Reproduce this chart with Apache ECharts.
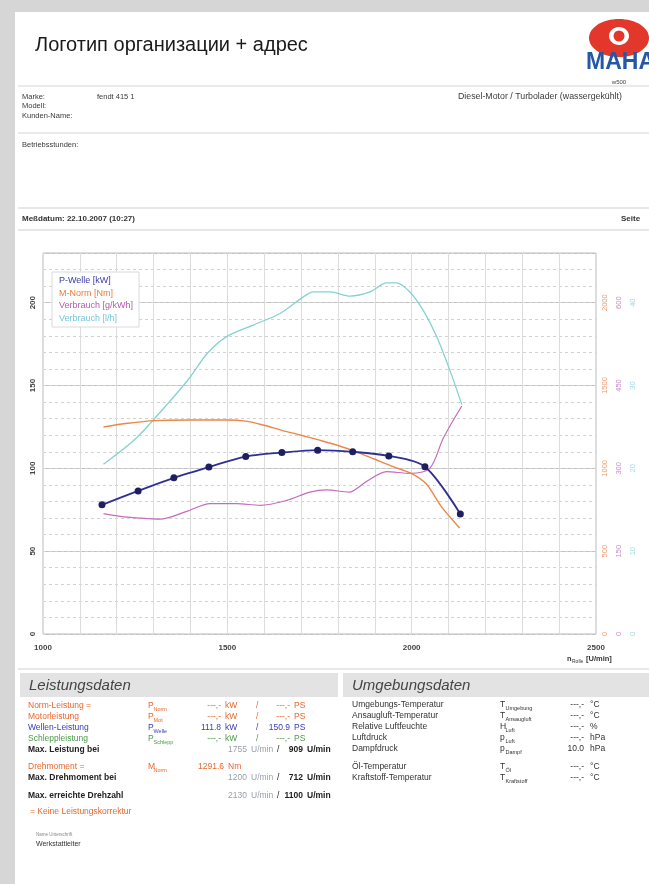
<!DOCTYPE html>
<html><head><meta charset="utf-8">
<script src="https://cdn.jsdelivr.net/npm/echarts@6/dist/echarts.min.js"></script>
<style>html,body{margin:0;padding:0;background:#d6d6d6}#c{width:649px;height:884px}</style>
</head><body><div id="c"></div>
<script>
// ---- chart data ----
const xTickLabels = [1000, 1500, 2000, 2500];
const leftTickLabels = [0, 50, 100, 150, 200];
const torqueTickLabels = [0, 500, 1000, 1500, 2000];
const bsfcTickLabels = [0, 150, 300, 450, 600];
const fuelTickLabels = [0, 10, 20, 30, 40];

const seriesNames = ['P-Welle [kW]', 'M-Norm [Nm]', 'Verbrauch [g/kWh]', 'Verbrauch [l/h]'];

const powerRpm = [1160, 1258, 1355, 1450, 1550, 1648, 1745, 1840, 1938, 2036, 2132];
const powerKw  = [78.0, 86.4, 94.3, 100.8, 107.1, 109.5, 111.0, 110.0, 107.5, 101.0, 72.4];

const torqueRpm = [1164, 1230, 1300, 1400, 1500, 1550, 1600, 1650, 1700, 1750, 1800, 1850, 1900, 1950, 2000, 2040, 2080, 2130];
const torqueNm  = [1250, 1272, 1288, 1292, 1292, 1285, 1260, 1228, 1200, 1170, 1138, 1100, 1055, 1010, 968, 905, 770, 640];

const bsfcRpm  = [1164, 1209, 1260, 1317, 1390, 1453, 1525, 1589, 1661, 1724, 1770, 1830, 1877, 1932, 1995, 2049, 2086, 2136];
const bsfcGkwh = [218, 213, 210, 208, 222, 236, 236, 233, 242, 257, 261, 257, 276, 294, 291, 300, 355, 413];

const fuelRpm = [1164, 1254, 1344, 1399, 1444, 1498, 1570, 1643, 1706, 1733, 1780, 1833, 1887, 1932, 1959, 1995, 2031, 2068, 2104, 2136];
const fuelLh  = [20.5, 23.7, 28.1, 31.0, 33.8, 35.9, 37.3, 38.7, 40.7, 41.3, 41.3, 40.8, 41.3, 42.4, 42.4, 41.3, 39.1, 35.9, 31.8, 27.7];

const colors = { power: '#2f2f96', torque: '#ec8748', bsfc: '#c66cbd', fuel: '#84d3d0' };

const zip = (a, b) => a.map((v, i) => [v, b[i]]);
const FONT = 'Liberation Sans, Arial, sans-serif';

// ---- document texts ----
const headerRows = [
  ['Marke:', 22, 97, 7.5], ['Modell:', 22, 106, 7.5], ['Kunden-Name:', 22, 116, 7.5], ['fendt 415 1', 97, 97, 7.5],
  ['Diesel-Motor / Turbolader (wassergekühlt)', 458, 97, 8.8], ['Betriebsstunden:', 22, 145, 7.5]
];
const leistRows = [
  { y: 706, label: 'Norm-Leistung =', s: 'P', sub: 'Norm', v1: '---,-', u1: 'kW', v2: '---,-', u2: 'PS', c: '#e8672e' },
  { y: 717, label: 'Motorleistung', s: 'P', sub: 'Mot', v1: '---,-', u1: 'kW', v2: '---,-', u2: 'PS', c: '#e8672e' },
  { y: 728, label: 'Wellen-Leistung', s: 'P', sub: 'Welle', v1: '111.8', u1: 'kW', v2: '150.9', u2: 'PS', c: '#3a40b0' },
  { y: 739, label: 'Schleppleistung', s: 'P', sub: 'Schlepp', v1: '---,-', u1: 'kW', v2: '---,-', u2: 'PS', c: '#4c9a48' }
];
const maxRows = [
  { y: 750, label: 'Max. Leistung bei', v1: '1755', v2: '909' },
  { y: 778, label: 'Max. Drehmoment bei', v1: '1200', v2: '712' },
  { y: 796, label: 'Max. erreichte Drehzahl', v1: '2130', v2: '1100' }
];
const umgRows = [
  { y: 705, label: 'Umgebungs-Temperatur', s: 'T', sub: 'Umgebung', v: '---,-', u: '°C' },
  { y: 716, label: 'Ansaugluft-Temperatur', s: 'T', sub: 'Ansaugluft', v: '---,-', u: '°C' },
  { y: 727, label: 'Relative Luftfeuchte', s: 'H', sub: 'Luft', v: '---,-', u: '%' },
  { y: 738, label: 'Luftdruck', s: 'p', sub: 'Luft', v: '---,-', u: 'hPa' },
  { y: 749, label: 'Dampfdruck', s: 'p', sub: 'Dampf', v: '10.0', u: 'hPa' },
  { y: 767, label: 'Öl-Temperatur', s: 'T', sub: 'Öl', v: '---,-', u: '°C' },
  { y: 778, label: 'Kraftstoff-Temperatur', s: 'T', sub: 'Kraftstoff', v: '---,-', u: '°C' }
];

function txt(text, x, y, o) {
  o = o || {};
  return { type: 'text', x: x, y: y, z: 5, silent: true,
    style: { text: text, fill: o.c || '#333', font: (o.it ? 'italic ' : '') + (o.b ? 'bold ' : '') + (o.fs || 8.5) + 'px ' + FONT,
      textAlign: o.al || 'left', textVerticalAlign: 'middle' } };
}
function sym(x, y, s, sub, c) {
  return [txt(s, x, y, { c: c, fs: 8.5 }), txt(sub, x + 5.5, y + 3, { c: c, fs: 5.5 })];
}
function line(x1, y1, x2, y2, c) {
  return { type: 'line', z: 4, silent: true, shape: { x1: x1, y1: y1, x2: x2, y2: y2 }, style: { stroke: c || '#cfcfcf', lineWidth: 1 } };
}

const g = [];
g.push({ type: 'rect', z: -100, silent: true, shape: { x: 15, y: 12, width: 640, height: 880 }, style: { fill: '#ffffff' } });
g.push(txt('Логотип организации + адрес', 35, 45, { fs: 20, c: '#1a1a1a' }));
// logo
g.push({ type: 'ellipse', z: 5, silent: true, shape: { cx: 619, cy: 38, rx: 30, ry: 19 }, style: { fill: '#e2372a' } });
g.push({ type: 'ellipse', z: 6, silent: true, shape: { cx: 619, cy: 36, rx: 10, ry: 9 }, style: { fill: '#ffffff' } });
g.push({ type: 'circle', z: 7, silent: true, shape: { cx: 619, cy: 36, r: 5.5 }, style: { fill: '#e2372a' } });
g.push(txt('MAHA', 586, 63, { fs: 23, b: true, c: '#2457a6' }));
g.push(txt('w500', 619, 82, { fs: 6, c: '#444', al: 'center' }));
// header
g.push(line(18, 86, 649, 86, '#d5d5d5'));
headerRows.forEach(r => g.push(txt(r[0], r[1], r[2], { fs: r[3], c: '#3a3a3a' })));
g.push(line(18, 133, 649, 133, '#d5d5d5'));
g.push(line(18, 208, 649, 208, '#cfcfcf'));
g.push(txt('Meßdatum: 22.10.2007 (10:27)', 22, 219, { fs: 8, b: true, c: '#333' }));
g.push(txt('Seite', 621, 219, { fs: 8, b: true, c: '#333' }));
g.push(line(18, 230, 649, 230, '#cfcfcf'));
// axis name
g.push(txt('n', 567, 659, { fs: 7.5, b: true, c: '#333' }));
g.push(txt('Rolle', 572, 662, { fs: 5, c: '#333' }));
g.push(txt('[U/min]', 586, 659, { fs: 7.5, b: true, c: '#333' }));
// bottom sections
g.push(line(18, 669, 649, 669, '#d0d0d0'));
g.push({ type: 'rect', z: 3, silent: true, shape: { x: 20, y: 673, width: 318, height: 24 }, style: { fill: '#e3e3e3' } });
g.push({ type: 'rect', z: 3, silent: true, shape: { x: 343, y: 673, width: 310, height: 24 }, style: { fill: '#e3e3e3' } });
g.push(txt('Leistungsdaten', 29, 686, { fs: 15, it: true, c: '#444' }));
g.push(txt('Umgebungsdaten', 352, 686, { fs: 15, it: true, c: '#444' }));
leistRows.forEach(r => {
  g.push(txt(r.label, 28, r.y, { c: r.c }));
  sym(148, r.y, r.s, r.sub, r.c).forEach(e => g.push(e));
  g.push(txt(r.v1, 221, r.y, { c: r.c, al: 'right' }));
  g.push(txt(r.u1, 225, r.y, { c: r.c }));
  g.push(txt('/', 256, r.y, { c: r.c }));
  g.push(txt(r.v2, 290, r.y, { c: r.c, al: 'right' }));
  g.push(txt(r.u2, 294, r.y, { c: r.c }));
});
maxRows.forEach(r => {
  g.push(txt(r.label, 28, r.y, { c: '#222', b: true }));
  g.push(txt(r.v1, 247, r.y, { c: '#9aa0aa', al: 'right' }));
  g.push(txt('U/min', 251, r.y, { c: '#9aa0aa' }));
  g.push(txt('/', 277, r.y, { c: '#222' }));
  g.push(txt(r.v2, 303, r.y, { c: '#222', b: true, al: 'right' }));
  g.push(txt('U/min', 307, r.y, { c: '#222', b: true }));
});
g.push(txt('Drehmoment =', 28, 767, { c: '#e8672e' }));
sym(148, 767, 'M', 'Norm', '#e8672e').forEach(e => g.push(e));
g.push(txt('1291.6', 224, 767, { c: '#e8672e', al: 'right' }));
g.push(txt('Nm', 228, 767, { c: '#e8672e' }));
g.push(txt('= Keine Leistungskorrektur', 30, 812, { c: '#e8672e' }));
g.push(txt('Name Unterschrift', 36, 835, { fs: 4.5, c: '#888' }));
g.push(txt('Werkstattleiter', 36, 844, { fs: 7, c: '#333' }));
umgRows.forEach(r => {
  g.push(txt(r.label, 352, r.y, { c: '#333' }));
  sym(500, r.y, r.s, r.sub, '#333').forEach(e => g.push(e));
  g.push(txt(r.v, 584, r.y, { c: '#333', al: 'right' }));
  g.push(txt(r.u, 590, r.y, { c: '#333' }));
});

// ---- chart ----
const chart = echarts.init(document.getElementById('c'), null, { renderer: 'canvas' });
const only = arr => (v => arr.indexOf(v) >= 0 ? String(v) : '');
const rightAxis = (max, interval, offset, color, labels) => ({
  type: 'value', position: 'right', offset: offset, min: 0, max: max, interval: interval,
  axisLine: { show: false }, axisTick: { show: false }, splitLine: { show: false },
  axisLabel: { rotate: 90, margin: 5, fontSize: 7.5, color: color, fontFamily: FONT, formatter: only(labels) }
});

chart.setOption({
  animation: false,
  backgroundColor: '#d6d6d6',
  graphic: g,
  grid: { left: 43, right: 53, top: 253, bottom: 250, show: true, borderColor: '#bdbdbd', borderWidth: 1, backgroundColor: 'transparent' },
  legend: {
    left: 52, top: 272, orient: 'vertical', icon: 'none', itemWidth: 0, itemHeight: 10, itemGap: 3,
    padding: [4, 6, 4, 2], backgroundColor: '#ffffff', borderColor: '#dadada', borderWidth: 1,
    textStyle: { fontSize: 9, fontFamily: FONT },
    data: [
      { name: seriesNames[0], textStyle: { color: '#3a3aa8' } },
      { name: seriesNames[1], textStyle: { color: '#ea7a3c' } },
      { name: seriesNames[2], textStyle: { color: '#b45cb0' } },
      { name: seriesNames[3], textStyle: { color: '#74c8d6' } }
    ]
  },
  xAxis: [
    { type: 'value', min: 1000, max: 2500, interval: 500, position: 'bottom',
      axisLine: { show: false }, axisTick: { show: false },
      axisLabel: { margin: 10, fontSize: 8, fontWeight: 'bold', color: '#444', fontFamily: FONT, formatter: only(xTickLabels) },
      splitLine: { show: true, lineStyle: { color: '#c2c2c2', width: 1 } } },
    { type: 'value', min: 1000, max: 2500, interval: 100, position: 'top',
      axisLine: { show: false }, axisTick: { show: false }, axisLabel: { show: false },
      splitLine: { show: true, lineStyle: { color: '#dcdcdc', width: 1 } } }
  ],
  yAxis: [
    { type: 'value', min: 0, max: 230, interval: 50, position: 'left',
      axisLine: { show: false }, axisTick: { show: false },
      axisLabel: { rotate: 90, margin: 6, fontSize: 8, fontWeight: 'bold', color: '#444', fontFamily: FONT, formatter: only(leftTickLabels) },
      splitLine: { show: true, lineStyle: { color: '#c2c2c2', width: 1 } } },
    { type: 'value', min: 0, max: 230, interval: 10, position: 'left',
      axisLine: { show: false }, axisTick: { show: false }, axisLabel: { show: false },
      splitLine: { show: true, lineStyle: { color: '#d2d2d2', width: 1, type: [3, 3] } } },
    rightAxis(2300, 500, 0, '#ee9a6a', torqueTickLabels),
    rightAxis(690, 150, 14, '#c98ac8', bsfcTickLabels),
    rightAxis(46, 10, 28, '#9fd8e4', fuelTickLabels)
  ],
  series: [
    { name: seriesNames[3], type: 'line', xAxisIndex: 0, yAxisIndex: 4, data: zip(fuelRpm, fuelLh),
      smooth: 0.3, showSymbol: false, color: colors.fuel, lineStyle: { width: 1.3 }, z: 3 },
    { name: seriesNames[2], type: 'line', xAxisIndex: 0, yAxisIndex: 3, data: zip(bsfcRpm, bsfcGkwh),
      smooth: 0.3, showSymbol: false, color: colors.bsfc, lineStyle: { width: 1.2 }, z: 3 },
    { name: seriesNames[1], type: 'line', xAxisIndex: 0, yAxisIndex: 2, data: zip(torqueRpm, torqueNm),
      smooth: 0.3, showSymbol: false, color: colors.torque, lineStyle: { width: 1.4 }, z: 4 },
    { name: seriesNames[0], type: 'line', xAxisIndex: 0, yAxisIndex: 0, data: zip(powerRpm, powerKw),
      smooth: 0.3, symbol: 'circle', symbolSize: 7, color: colors.power,
      itemStyle: { color: '#1e1e60' }, lineStyle: { width: 1.8, color: colors.power }, z: 5 }
  ]
});
</script></body></html>
